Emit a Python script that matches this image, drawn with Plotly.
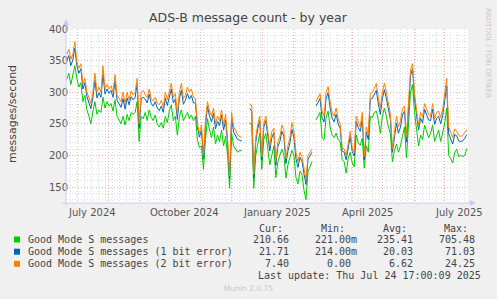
import plotly.graph_objects as go
import pandas as pd

# ---------------- data (2-day samples, Jun 20 2024 .. Jul 23 2025) ----------------
green = [320,330,312,325,342,322,308,315,285,295,
         272,262,250,270,285,265,272,268,292,275,
         285,278,282,270,288,262,255,250,262,248,
         265,255,268,265,268,285,222,262,258,268,
         255,272,260,255,264,250,245,252,243,262,
         252,270,280,255,262,232,260,272,255,262,
         268,258,264,255,262,225,212,215,178,225,
         258,240,228,245,218,232,222,240,215,230,
         200,148,235,215,210,205,208,207,None,None,
         None,252,248,148,200,218,235,178,225,235,
         210,185,200,215,165,190,200,210,200,164,
         185,195,208,200,165,155,175,170,145,130,
         175,182,190,None,256,262,268,228,225,260,
         270,245,232,228,235,225,222,193,190,172,
         195,205,188,182,232,220,216,227,180,215,
         205,262,260,268,270,255,235,262,275,262,
         245,235,190,208,218,205,215,230,245,196,
         255,300,312,268,242,215,232,225,248,238,
         228,235,248,222,232,240,222,235,250,275,
         200,195,188,205,210,198,200,198,200,211]

blue = [30,28,30,26,28,20,22,22,20,20,
        21,21,24,22,34,26,27,24,37,22,
        20,20,21,22,30,25,26,26,28,25,
        26,25,25,23,24,28,21,28,34,21,
        28,25,22,23,21,25,26,26,25,28,
        27,22,25,28,27,25,30,31,26,25,
        30,31,31,28,21,19,17,25,16,22,
        20,22,25,22,24,22,25,24,25,26,
        19,15,25,22,22,20,16,16,None,None,
        None,22,22,16,21,24,20,15,19,20,
        21,22,28,21,19,24,22,28,30,23,
        22,25,33,28,30,26,22,21,26,24,
        19,17,15,None,22,22,22,31,28,30,
        29,30,27,25,30,25,21,14,15,21,
        20,25,18,17,22,24,22,31,13,22,
        20,27,30,28,33,26,30,28,29,28,
        28,22,15,24,33,30,30,34,25,25,
        25,26,25,22,22,25,27,26,25,25,
        28,20,25,27,27,22,28,28,34,35,
        34,30,30,28,21,25,22,25,27,22]

orange = [10,10,10,9,10,6,8,8,7,7,
          7,7,8,8,11,9,9,8,13,8,
          7,7,7,8,10,8,9,9,10,9,
          9,8,9,8,8,9,7,10,11,7,
          9,8,8,8,7,8,9,9,8,10,
          9,8,9,9,9,8,10,11,9,8,
          10,11,10,9,7,6,6,8,6,8,
          7,8,9,8,8,8,8,8,8,9,
          6,5,8,8,8,7,6,5,None,None,
          None,8,8,6,7,8,7,5,6,7,
          7,8,10,7,6,8,8,10,10,8,
          8,8,11,10,10,9,8,7,9,8,
          6,6,5,None,7,8,8,11,9,10,
          10,10,9,9,10,8,7,5,5,7,
          7,8,6,6,8,8,7,10,5,8,
          7,9,10,10,11,9,10,10,10,10,
          9,8,5,8,11,10,10,11,8,9,
          8,9,8,8,8,8,9,9,9,9,
          9,7,9,9,9,8,10,9,11,12,
          11,10,10,9,7,9,8,9,9,7]

series_names = ["Good Mode S messages",
                "Good Mode S messages (1 bit error)",
                "Good Mode S messages (2 bit error)"]
cur_vals = ["210.66", "21.71", "7.40"]
min_vals = ["221.00m", "214.00m", "0.00"]
avg_vals = ["235.41", "20.03", "6.62"]
max_vals = ["705.48", "71.03", "24.25"]
month_labels = ["July 2024", "October 2024", "January 2025", "April 2025", "July 2025"]
month_label_dates = ["2024-07-16", "2024-10-16", "2025-01-16", "2025-04-16", "2025-07-16"]
y_ticks = [150, 200, 250, 300, 350, 400]

# ---------------- layout geometry ----------------
W, H = 497, 299
L, R, T, B = 66, 468, 29, 203   # plot area in pixels

def px(x):
    return (x - L) / (R - L)

def py(y):
    return (B - y) / (B - T)

dates = pd.date_range("2024-06-20 12:00", periods=len(green), freq="2D")

def add(a, b):
    return [None if (u is None or v is None) else u + v for u, v in zip(a, b)]

blue_top = add(green, blue)
orange_top = add(blue_top, orange)

colors = ["#00CC00", "#0066B3", "#FF8000"]

fig = go.Figure()
for ys, c, n in zip([green, blue_top, orange_top], colors, series_names):
    fig.add_trace(go.Scatter(x=dates, y=ys, mode="lines", name=n,
                             line=dict(color=c, width=1), connectgaps=False,
                             showlegend=False, hoverinfo="skip"))

axis_col = "#C8CCF4"
major_col = "#EDB4B4"
minor_col = "#DCDCDC"
fig.update_layout(
    width=W, height=H,
    margin=dict(l=L, r=W - R, t=T, b=H - B, pad=0),
    paper_bgcolor="#F0F0F0", plot_bgcolor="white",
    font=dict(family="DejaVu Sans", size=10, color="#555"),
    showlegend=False,
    xaxis=dict(type="date", range=["2024-06-19 17:00", "2025-07-24 17:00"],
               tick0="2024-07-01", dtick="M1", showticklabels=False, ticks="",
               showgrid=True, gridcolor=major_col, griddash="1px,2px", gridwidth=1,
               minor=dict(tick0="2024-06-24", dtick=7 * 86400000, showgrid=True,
                          gridcolor=minor_col, griddash="1px,2px", gridwidth=1),
               zeroline=False, showline=False, fixedrange=True),
    yaxis=dict(range=[124.7, 400], tickvals=y_ticks, ticks="",
               tickfont=dict(size=10, color="#555"), ticklabelstandoff=-3,
               showgrid=True, gridcolor=major_col, griddash="1px,2px", gridwidth=1,
               minor=dict(dtick=10, tick0=0, showgrid=True,
                          gridcolor=minor_col, griddash="1px,2px", gridwidth=1),
               zeroline=False, showline=False, fixedrange=True),
)

shapes = []
# axis lines with arrows
shapes.append(dict(type="line", xref="paper", yref="paper", x0=px(66), x1=px(66),
                   y0=py(206), y1=py(23), line=dict(color=axis_col, width=1)))
shapes.append(dict(type="line", xref="paper", yref="paper", x0=px(62), x1=px(471),
                   y0=py(203), y1=py(203), line=dict(color=axis_col, width=1)))
shapes.append(dict(type="path", xref="paper", yref="paper",
                   path=f"M {px(63)} {py(25)} L {px(69)} {py(25)} L {px(66)} {py(19)} Z",
                   fillcolor=axis_col, line=dict(width=0)))
shapes.append(dict(type="path", xref="paper", yref="paper",
                   path=f"M {px(470)} {py(200)} L {px(470)} {py(206)} L {px(476)} {py(203)} Z",
                   fillcolor=axis_col, line=dict(width=0)))
# legend squares
row_y = [239.5, 251.7, 263.8]
for c, yy in zip(colors, row_y):
    shapes.append(dict(type="rect", xref="paper", yref="paper",
                       x0=px(14), x1=px(20), y0=py(yy - 3), y1=py(yy + 3),
                       fillcolor=c, line=dict(width=0)))
fig.update_layout(shapes=shapes)

ann = []
mono = dict(family="DejaVu Sans Mono", size=10, color="#444")
# title
ann.append(dict(text="ADS-B message count - by year", xref="paper", yref="paper",
                x=px(248), y=py(18), xanchor="center", yanchor="middle", showarrow=False,
                font=dict(family="DejaVu Sans", size=12.5, color="#444")))
# y axis title
ann.append(dict(text="messages/second", xref="paper", yref="paper",
                x=px(12), y=py(114), xanchor="center", yanchor="middle", textangle=-90,
                showarrow=False, font=dict(family="DejaVu Sans", size=11, color="#444")))
# x month labels
for lab, d in zip(month_labels, month_label_dates):
    ann.append(dict(text=lab, xref="x", yref="paper", x=d, y=py(212),
                    xanchor="center", yanchor="middle", showarrow=False,
                    font=dict(family="DejaVu Sans", size=10, color="#555")))
# watermark
ann.append(dict(text="RRDTOOL / TOBI OETIKER", xref="paper", yref="paper",
                x=px(488), y=py(53), xanchor="center", yanchor="middle", textangle=90,
                showarrow=False, font=dict(family="DejaVu Sans", size=7, color="#C8C8C8")))
ann.append(dict(text="Munin 2.0.75", xref="paper", yref="paper",
                x=px(248), y=py(288.5), xanchor="center", yanchor="middle",
                showarrow=False, font=dict(family="DejaVu Sans", size=7.5, color="#C8C8C8")))
# legend headers
for h, xr in zip(["Cur:", "Min:", "Avg:", "Max:"], [285, 347, 408.5, 470]):
    ann.append(dict(text=h, xref="paper", yref="paper", x=px(xr), y=py(228),
                    xanchor="right", yanchor="middle", showarrow=False, font=mono))
# legend rows
for k in range(3):
    yy = row_y[k]
    ann.append(dict(text=series_names[k], xref="paper", yref="paper", x=px(26), y=py(yy),
                    xanchor="left", yanchor="middle", showarrow=False, font=mono))
    mv = min_vals[k]
    min_right = 359 if mv.endswith("m") else 353
    for v, xr in zip([cur_vals[k], mv, avg_vals[k], max_vals[k]], [291.3, min_right, 415, 477]):
        ann.append(dict(text=v, xref="paper", yref="paper", x=px(xr), y=py(yy),
                        xanchor="right", yanchor="middle", showarrow=False, font=mono))
ann.append(dict(text="Last update: Thu Jul 24 17:00:09 2025", xref="paper", yref="paper",
                x=px(482.5), y=py(275.5), xanchor="right", yanchor="middle",
                showarrow=False, font=mono))
fig.update_layout(annotations=ann)

fig.write_html("out.html", config={"displayModeBar": False})
